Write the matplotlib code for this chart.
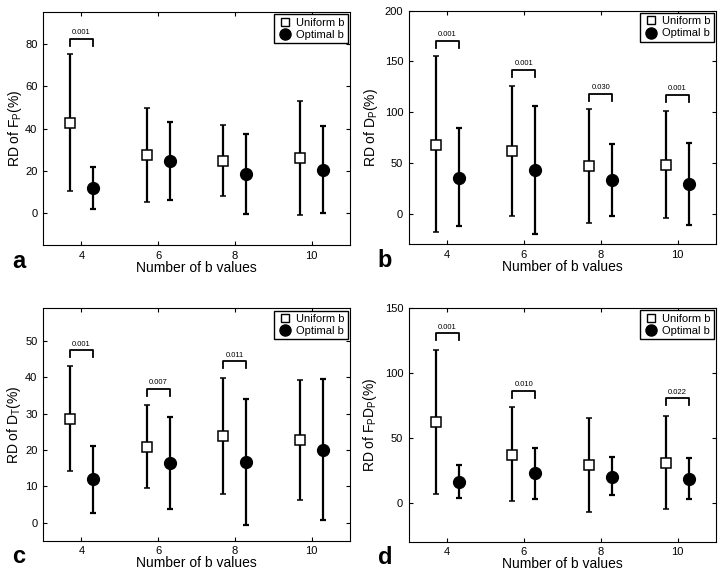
import numpy as np
import matplotlib.pyplot as plt
from matplotlib.lines import Line2D

plt.rcParams['font.family'] = ['Liberation Sans', 'DejaVu Sans']
plt.rcParams['mathtext.fontset'] = 'custom'
plt.rcParams['mathtext.rm'] = 'Liberation Sans'

nb = np.array([4, 6, 8, 10])

# panel a: RD of Fp
a_uni = [42.5, 27.5, 24.5, 26.0]
a_uni_lo = [10.5, 5.5, 8.0, -1.0]
a_uni_hi = [75.0, 49.8, 41.5, 53.0]
a_opt = [12.0, 24.5, 18.3, 20.5]
a_opt_lo = [2.0, 6.0, -0.5, 0.0]
a_opt_hi = [21.8, 43.0, 37.5, 41.0]
a_pvals = {4: ('0.001', 82.3)}

# panel b: RD of Dp
b_uni = [68.0, 62.0, 47.0, 48.0]
b_uni_lo = [-18.0, -2.0, -9.0, -4.0]
b_uni_hi = [155.0, 126.0, 103.0, 101.0]
b_opt = [35.0, 43.0, 33.0, 29.0]
b_opt_lo = [-12.0, -20.0, -2.0, -11.0]
b_opt_hi = [84.0, 106.0, 69.0, 70.0]
b_pvals = {4: ('0.001', 170.0), 6: ('0.001', 142.0), 8: ('0.030', 118.0), 10: ('0.001', 117.0)}

# panel c: RD of Dt
c_uni = [28.5, 20.8, 23.8, 22.7]
c_uni_lo = [14.3, 9.5, 7.8, 6.3]
c_uni_hi = [43.0, 32.3, 39.8, 39.2]
c_opt = [12.0, 16.4, 16.7, 20.1]
c_opt_lo = [2.5, 3.8, -0.7, 0.8]
c_opt_hi = [21.2, 29.1, 34.0, 39.5]
c_pvals = {4: ('0.001', 47.4), 6: ('0.007', 36.8), 8: ('0.011', 44.4)}

# panel d: RD of FpDp
d_uni = [62.0, 37.0, 29.0, 31.0]
d_uni_lo = [6.5, 1.0, -7.0, -5.0]
d_uni_hi = [118.0, 74.0, 65.0, 67.0]
d_opt = [16.0, 23.0, 20.0, 18.5]
d_opt_lo = [4.0, 3.0, 6.0, 3.0]
d_opt_hi = [29.0, 42.0, 35.0, 34.5]
d_pvals = {4: ('0.001', 130.5), 6: ('0.010', 86.0), 10: ('0.022', 80.5)}

panels = [
    ('a', r'RD of F$_\mathregular{P}$(%)', (-15, 95), [0, 20, 40, 60, 80],
     a_uni, a_uni_lo, a_uni_hi, a_opt, a_opt_lo, a_opt_hi, a_pvals,
     [0.0594, 0.574, 0.424, 0.405], -0.062),
    ('b', r'RD of D$_\mathregular{P}$(%)', (-30, 200), [0, 50, 100, 150, 200],
     b_uni, b_uni_lo, b_uni_hi, b_opt, b_opt_lo, b_opt_hi, b_pvals,
     [0.5645, 0.5757, 0.4245, 0.4057], -0.094),
    ('c', r'RD of D$_\mathregular{T}$(%)', (-5, 59), [0, 10, 20, 30, 40, 50],
     c_uni, c_uni_lo, c_uni_hi, c_opt, c_opt_lo, c_opt_hi, c_pvals,
     [0.0594, 0.0597, 0.424, 0.404], -0.066),
    ('d', r'RD of F$_\mathregular{P}$D$_\mathregular{P}$(%)', (-30, 150), [0, 50, 100, 150],
     d_uni, d_uni_lo, d_uni_hi, d_opt, d_opt_lo, d_opt_hi, d_pvals,
     [0.5645, 0.058, 0.4245, 0.406], -0.097),
]

fig = plt.figure(figsize=(7.24, 5.75), dpi=100)
off = 0.3

for (letter, ylab, ylim, yticks, uni, ulo, uhi, opt, olo, ohi, pv, pos, ylx) in panels:
    ax = fig.add_axes(pos)
    uni = np.array(uni); opt = np.array(opt)
    uerr = [uni - np.array(ulo), np.array(uhi) - uni]
    oerr = [opt - np.array(olo), np.array(ohi) - opt]
    ax.errorbar(nb - off, uni, yerr=uerr, fmt='s', color='black', mfc='white',
                mec='black', ms=6.5, mew=1.1, elinewidth=1.6, capsize=2.5, capthick=1.6)
    ax.errorbar(nb + off, opt, yerr=oerr, fmt='o', color='black', mfc='black',
                ms=8.5, elinewidth=1.6, capsize=2.5, capthick=1.6)
    span = ylim[1] - ylim[0]
    leg_h = span * 0.03
    for x, (txt, ytop) in pv.items():
        ax.plot([x - off, x - off, x + off, x + off],
                [ytop - leg_h, ytop, ytop, ytop - leg_h], color='black', lw=1.3)
        ax.text(x, ytop + span * 0.012, txt, ha='center', va='bottom', fontsize=5.5)
    ax.set_xlim(3, 11)
    ax.set_ylim(*ylim)
    ax.set_xticks(nb)
    ax.set_yticks(yticks)
    ax.tick_params(direction='in', top=True, right=True, labelsize=8, length=3, pad=4)
    ax.set_xlabel('Number of b values', fontsize=10, labelpad=0)
    ax.set_ylabel(ylab, fontsize=10)
    ax.yaxis.set_label_coords(ylx, 0.5)
    handles = [Line2D([], [], ls='none', marker='s', mfc='white', mec='black', ms=6, mew=1),
               Line2D([], [], ls='none', marker='o', mfc='black', mec='black', ms=8)]
    ax.legend(handles, ['Uniform b', 'Optimal b'], loc='upper right', fontsize=8,
              fancybox=False, edgecolor='black', framealpha=1, borderpad=0.3,
              handletextpad=0.2, handlelength=1.5, labelspacing=0.2,
              borderaxespad=0.2)
    ax.text(-0.10, -0.07, letter, transform=ax.transAxes, fontsize=17,
            fontweight='bold', ha='left', va='center')

fig.savefig('out.png', dpi=100)
